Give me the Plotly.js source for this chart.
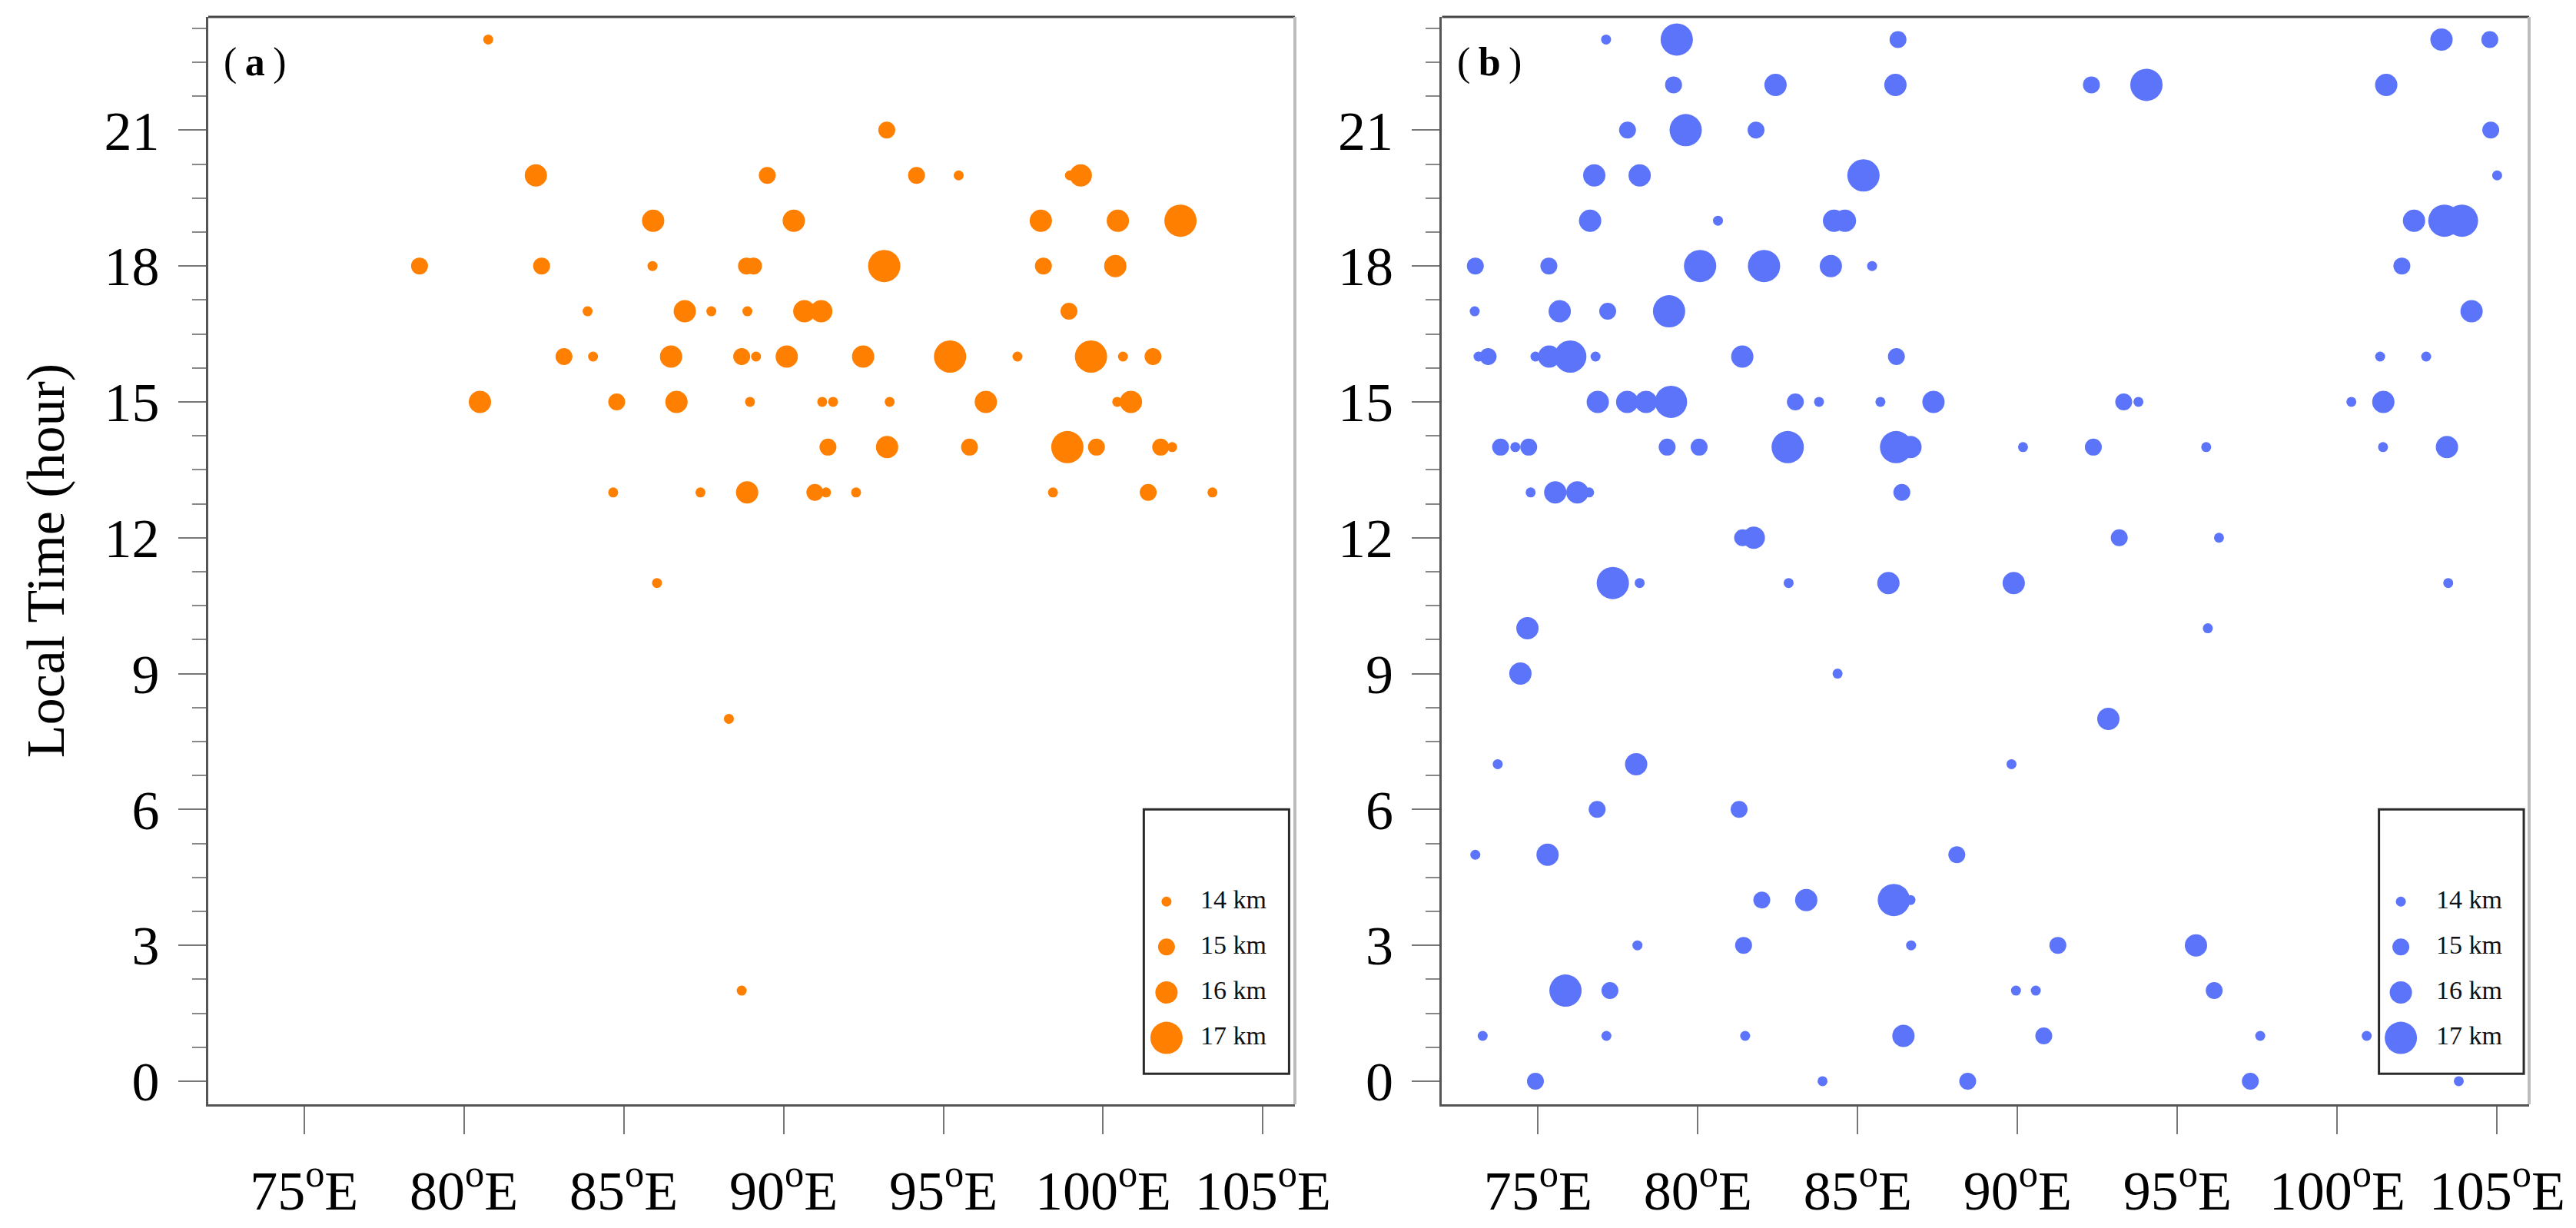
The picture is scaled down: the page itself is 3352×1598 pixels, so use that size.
<!DOCTYPE html>
<html>
<head>
<meta charset="utf-8">
<script src="https://cdn.plot.ly/plotly-3.0.1.min.js"></script>
<style>html,body{margin:0;padding:0;background:#fff;}#chart{width:3352px;height:1598px;}</style>
</head>
<body>
<div id="chart"></div>
<script>
// ---------------- data ----------------
// Panel (a): longitude (deg E), local time (hour), height (km)
var aLon = [80.76,
  93.23,
  82.25, 89.49, 94.16, 95.48, 98.96, 99.30,
  85.92, 90.32, 98.05, 100.46, 102.42,
  78.61, 82.43, 85.90, 88.84, 89.06, 93.15, 98.13, 100.38,
  83.87, 86.91, 87.74, 88.87, 90.65, 91.18, 98.93,
  83.13, 84.04, 86.48, 88.69, 89.14, 90.10, 92.49, 95.21, 97.32, 99.62, 100.62, 101.56,
  80.50, 84.78, 86.65, 88.95, 91.21, 91.55, 93.32, 96.33, 100.44, 100.87,
  91.39, 93.24, 95.82, 98.88, 99.79, 101.80, 102.16,
  84.67, 87.40, 88.86, 90.98, 91.33, 92.27, 98.43, 101.41, 103.42,
  86.04, 88.29, 88.69];
var aHour = [23,
  21,
  20, 20, 20, 20, 20, 20,
  19, 19, 19, 19, 19,
  18, 18, 18, 18, 18, 18, 18, 18,
  17, 17, 17, 17, 17, 17, 17,
  16, 16, 16, 16, 16, 16, 16, 16, 16, 16, 16, 16,
  15, 15, 15, 15, 15, 15, 15, 15, 15, 15,
  14, 14, 14, 14, 14, 14, 14,
  13, 13, 13, 13, 13, 13, 13, 13, 13,
  11, 8, 2];
var aHeight = [14,
  15,
  16, 15, 15, 14, 14, 16,
  16, 16, 16, 16, 17,
  15, 15, 14, 15, 15, 17, 15, 16,
  14, 16, 14, 14, 16, 16, 15,
  15, 14, 16, 15, 14, 16, 16, 17, 14, 17, 14, 15,
  16, 15, 16, 14, 14, 14, 14, 16, 14, 16,
  15, 16, 15, 17, 15, 15, 14,
  14, 14, 16, 15, 14, 14, 14, 15, 14,
  14, 14, 14];

// Panel (b)
var bLon = [77.13, 79.34, 86.26, 103.26, 104.77,
  79.24, 82.43, 86.18, 92.31, 94.03, 101.53,
  77.80, 79.62, 81.82, 104.80,
  76.76, 78.18, 85.18, 105.00,
  76.63, 80.63, 84.26, 84.60, 102.40, 103.35, 103.90,
  73.04, 75.34, 80.07, 82.07, 84.16, 85.45, 102.02,
  73.02, 75.68, 77.18, 79.10, 104.20,
  73.14, 73.44, 74.92, 75.35, 76.01, 76.80, 81.39, 86.21, 101.34, 102.78,
  76.87, 77.79, 78.38, 79.16, 83.05, 83.79, 85.71, 87.37, 93.32, 93.78, 100.44, 101.44,
  73.83, 74.29, 74.71, 79.04, 80.04, 82.81, 86.20, 86.65, 90.17, 92.37, 95.90, 101.43, 103.43,
  74.77, 75.54, 76.23, 76.60, 86.38,
  81.40, 81.75, 93.18, 96.30,
  77.34, 78.18, 82.84, 85.96, 89.88, 103.47,
  74.67, 95.95,
  74.45, 84.37,
  92.84,
  73.74, 78.07, 89.81,
  76.85, 81.29,
  73.04, 75.30, 88.10,
  82.00, 83.39, 86.13, 86.65,
  78.11, 81.43, 86.67, 91.26, 95.58,
  75.86, 77.25, 89.95, 90.57, 96.15,
  73.27, 77.14, 81.48, 86.43, 90.82, 97.59, 100.92,
  74.92, 83.90, 88.44, 97.28, 103.80];
var bHour = [23, 23, 23, 23, 23,
  22, 22, 22, 22, 22, 22,
  21, 21, 21, 21,
  20, 20, 20, 20,
  19, 19, 19, 19, 19, 19, 19,
  18, 18, 18, 18, 18, 18, 18,
  17, 17, 17, 17, 17,
  16, 16, 16, 16, 16, 16, 16, 16, 16, 16,
  15, 15, 15, 15, 15, 15, 15, 15, 15, 15, 15, 15,
  14, 14, 14, 14, 14, 14, 14, 14, 14, 14, 14, 14, 14,
  13, 13, 13, 13, 13,
  12, 12, 12, 12,
  11, 11, 11, 11, 11, 11,
  10, 10,
  9, 9,
  8,
  7, 7, 7,
  6, 6,
  5, 5, 5,
  4, 4, 4, 4,
  3, 3, 3, 3, 3,
  2, 2, 2, 2, 2,
  1, 1, 1, 1, 1, 1, 1,
  0, 0, 0, 0, 0];
var bHeight = [14, 17, 15, 16, 15,
  15, 16, 16, 15, 17, 16,
  15, 17, 15, 15,
  16, 16, 17, 14,
  16, 14, 16, 16, 16, 17, 17,
  15, 15, 17, 17, 16, 14, 15,
  14, 16, 15, 17, 16,
  14, 15, 14, 16, 17, 14, 16, 15, 14, 14,
  16, 16, 16, 17, 15, 14, 14, 16, 15, 14, 14, 16,
  15, 14, 15, 15, 15, 17, 17, 16, 14, 15, 14, 14, 16,
  14, 16, 16, 14, 15,
  15, 16, 15, 14,
  17, 14, 14, 16, 16, 14,
  16, 14,
  16, 14,
  16,
  14, 16, 14,
  15, 15,
  14, 16, 15,
  15, 16, 17, 14,
  14, 15, 14, 15, 16,
  17, 15, 14, 14, 15,
  14, 14, 14, 16, 15, 14, 14,
  15, 14, 15, 15, 14];

// legend levels and tick labels
var legendLevels = [14, 15, 16, 17];
var xTickVals = [75, 80, 85, 90, 95, 100, 105];
var xTickText = ["75<sup>o</sup>E", "80<sup>o</sup>E", "85<sup>o</sup>E", "90<sup>o</sup>E",
                 "95<sup>o</sup>E", "100<sup>o</sup>E", "105<sup>o</sup>E"];

// ---------------- styling ----------------
var sizeFor = {14: 13, 15: 22, 16: 29, 17: 42};
function sizes(h) { return h.map(function (v) { return sizeFor[v]; }); }
var ORANGE = '#ff7f00', BLUE = '#5c74f9';
var FONT = 'Liberation Serif, Times New Roman, serif';

function mk(color, h) { return {color: color, size: sizes(h), opacity: 1, line: {width: 0}}; }

var traces = [
  {type: 'scatter', mode: 'markers', x: aLon, y: aHour, xaxis: 'x', yaxis: 'y',
   marker: mk(ORANGE, aHeight), hoverinfo: 'skip'},
  {type: 'scatter', mode: 'markers', x: bLon, y: bHour, xaxis: 'x2', yaxis: 'y2',
   marker: mk(BLUE, bHeight), hoverinfo: 'skip'},
  // legend (a)
  {type: 'scatter', mode: 'markers', x: legendLevels.map(function () { return 0; }), y: legendLevels,
   xaxis: 'x3', yaxis: 'y3', marker: mk(ORANGE, legendLevels), hoverinfo: 'skip'},
  {type: 'scatter', mode: 'text', x: legendLevels.map(function () { return 44; }), y: legendLevels,
   xaxis: 'x3', yaxis: 'y3', text: legendLevels.map(function (v) { return v + ' km'; }),
   textposition: 'middle right', textfont: {family: FONT, size: 34, color: '#111'}, hoverinfo: 'skip'},
  // legend (b)
  {type: 'scatter', mode: 'markers', x: legendLevels.map(function () { return 0; }), y: legendLevels,
   xaxis: 'x4', yaxis: 'y4', marker: mk(BLUE, legendLevels), hoverinfo: 'skip'},
  {type: 'scatter', mode: 'text', x: legendLevels.map(function () { return 46; }), y: legendLevels,
   xaxis: 'x4', yaxis: 'y4', text: legendLevels.map(function (v) { return v + ' km'; }),
   textposition: 'middle right', textfont: {family: FONT, size: 34, color: '#111'}, hoverinfo: 'skip'}
];

function xAxis(domain, anchor) {
  return {domain: domain, anchor: anchor, range: [72, 106], tickmode: 'array',
    tickvals: xTickVals, ticktext: xTickText, ticks: 'outside', ticklen: 36, tickwidth: 2,
    tickcolor: '#777', showline: true, linecolor: '#555', linewidth: 3, showgrid: false,
    zeroline: false, tickfont: {family: FONT, size: 72, color: '#000'}, ticklabelstandoff: 12,
    fixedrange: true};
}
function yAxis(anchor) {
  return {domain: [0, 1], anchor: anchor, range: [-0.51, 23.5], tickmode: 'linear', tick0: 0, dtick: 3,
    ticks: 'outside', ticklen: 36, tickwidth: 2, tickcolor: '#777', showline: true, linecolor: '#555',
    linewidth: 3, showgrid: false, zeroline: false, tickfont: {family: FONT, size: 72, color: '#000'},
    ticklabelstandoff: 10,
    minor: {tickmode: 'linear', tick0: 0, dtick: 0.75, ticks: 'outside', ticklen: 18, tickwidth: 2,
            tickcolor: '#888', showgrid: false},
    fixedrange: true};
}
function hidden(domain, range, anchor) {
  return {domain: domain, range: range, anchor: anchor, visible: false, showgrid: false,
          zeroline: false, fixedrange: true};
}

var ya = yAxis('x');
ya.title = {text: 'Local Time (hour)', font: {family: FONT, size: 70, color: '#000'}, standoff: 30};

var legY = [0.0281, 0.2712];
var layout = {
  width: 3352, height: 1598,
  margin: {l: 271, r: 61, t: 22, b: 161, pad: 0},
  paper_bgcolor: '#ffffff', plot_bgcolor: 'rgba(0,0,0,0)',
  showlegend: false,
  font: {family: FONT, color: '#000'},
  xaxis: xAxis([0, 0.46821], 'y'),
  yaxis: ya,
  xaxis2: xAxis([0.53162, 1], 'y2'),
  yaxis2: yAxis('x2'),
  xaxis3: hidden([0.4031, 0.4657], [-29.5, 159.3], 'y3'),
  yaxis3: hidden(legY, [17.79, 11.97], 'x3'),
  xaxis4: hidden([0.9353, 0.9977], [-28.5, 160], 'y4'),
  yaxis4: hidden(legY, [17.79, 11.97], 'x4'),
  shapes: [
    {type: 'line', xref: 'x domain', yref: 'y domain', x0: 0, x1: 1, y0: 1, y1: 1, line: {color: '#444', width: 3}},
    {type: 'line', xref: 'x domain', yref: 'y domain', x0: 1, x1: 1, y0: 0, y1: 1, line: {color: '#bdbdbd', width: 4}},
    {type: 'line', xref: 'x2 domain', yref: 'y2 domain', x0: 0, x1: 1, y0: 1, y1: 1, line: {color: '#444', width: 3}},
    {type: 'line', xref: 'x2 domain', yref: 'y2 domain', x0: 1, x1: 1, y0: 0, y1: 1, line: {color: '#bdbdbd', width: 4}},
    {type: 'rect', xref: 'x3 domain', yref: 'y3 domain', x0: 0, x1: 1, y0: 0, y1: 1, line: {color: '#2a2a2a', width: 3}, fillcolor: 'rgba(0,0,0,0)'},
    {type: 'rect', xref: 'x4 domain', yref: 'y4 domain', x0: 0, x1: 1, y0: 0, y1: 1, line: {color: '#2a2a2a', width: 3}, fillcolor: 'rgba(0,0,0,0)'}
  ],
  annotations: [
    {text: '(\u2009<b>a</b>\u2009)', xref: 'x domain', yref: 'y domain', x: 0, y: 1, xanchor: 'left', yanchor: 'top',
     xshift: 18, yshift: -28, showarrow: false, font: {family: FONT, size: 52, color: '#000'}},
    {text: '(\u2009<b>b</b>\u2009)', xref: 'x2 domain', yref: 'y2 domain', x: 0, y: 1, xanchor: 'left', yanchor: 'top',
     xshift: 18, yshift: -28, showarrow: false, font: {family: FONT, size: 52, color: '#000'}}
  ]
};

Plotly.newPlot('chart', traces, layout, {staticPlot: true, displayModeBar: false});
</script>
</body>
</html>
